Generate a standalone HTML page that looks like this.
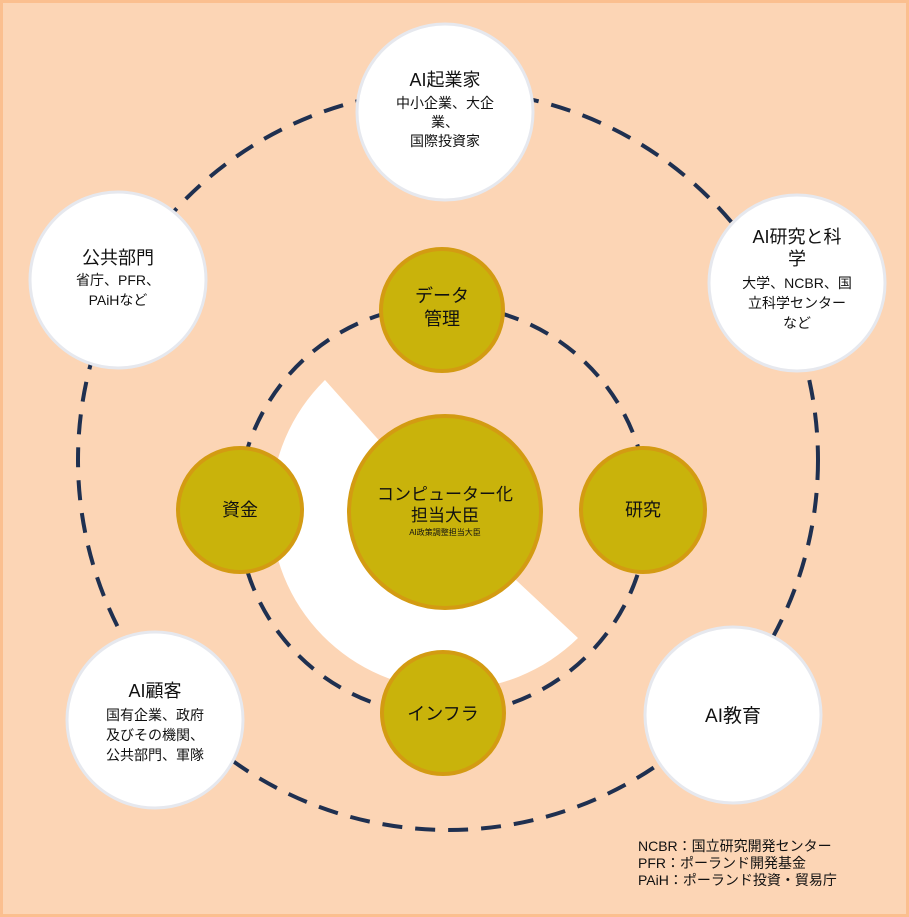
<!DOCTYPE html>
<html><head><meta charset="utf-8"><style>
body{margin:0;width:909px;height:917px;overflow:hidden;background:#FCD5B5}
svg{display:block}
text{font-family:"Liberation Sans","Noto Sans CJK JP",sans-serif;fill:#111;text-anchor:middle}
</style></head><body>
<svg width="909" height="917" viewBox="0 0 909 917">
<rect x="1.5" y="1.5" width="906" height="914" fill="#FCD5B5" stroke="#FBBF8F" stroke-width="3"/>
<circle cx="448" cy="460" r="370" fill="none" stroke="#1F3050" stroke-width="4" stroke-dasharray="20 13"/>
<circle cx="443" cy="510" r="205" fill="none" stroke="#1F3050" stroke-width="4" stroke-dasharray="20 13"/>
<path d="M443,512 L325,380 A177,177 0 1,0 578,638 Z" fill="#fff"/>
<g fill="#fff" stroke="#E6E8EE" stroke-width="3">
<circle cx="445" cy="112" r="88"/>
<circle cx="118" cy="280" r="88"/>
<circle cx="797" cy="283" r="88"/>
<circle cx="155" cy="720" r="88"/>
<circle cx="733" cy="715" r="88"/>
</g>
<g fill="#C9B30B" stroke="#D39B12" stroke-width="4">
<circle cx="445" cy="512" r="96"/>
<circle cx="442" cy="310" r="61"/>
<circle cx="240" cy="510" r="62"/>
<circle cx="643" cy="510" r="62"/>
<circle cx="443" cy="713" r="61"/>
</g>
<text x="445" y="86" font-size="18">AI起業家</text>
<text x="445" y="108" font-size="14">中小企業、大企</text>
<text x="445" y="127" font-size="14">業、</text>
<text x="445" y="146" font-size="14">国際投資家</text>
<text x="118" y="264" font-size="18">公共部門</text>
<text x="118" y="285" font-size="14">省庁、PFR、</text>
<text x="118" y="305" font-size="14">PAiHなど</text>
<text x="797" y="243" font-size="18">AI研究と科</text>
<text x="797" y="265" font-size="18">学</text>
<text x="797" y="288" font-size="14">大学、NCBR、国</text>
<text x="797" y="308" font-size="14">立科学センター</text>
<text x="797" y="328" font-size="14">など</text>
<text x="155" y="697" font-size="18">AI顧客</text>
<text x="155" y="720" font-size="14">国有企業、政府</text>
<text x="155" y="740" font-size="14">及びその機関、</text>
<text x="155" y="760" font-size="14">公共部門、軍隊</text>
<text x="733" y="722" font-size="19">AI教育</text>
<text x="445" y="500" font-size="17">コンピューター化</text>
<text x="445" y="521" font-size="17">担当大臣</text>
<text x="445" y="535" font-size="8">AI政策調整担当大臣</text>
<text x="442" y="302" font-size="18">データ</text>
<text x="442" y="325" font-size="18">管理</text>
<text x="240" y="516" font-size="18">資金</text>
<text x="643" y="516" font-size="18">研究</text>
<text x="443" y="720" font-size="18">インフラ</text>
<g font-size="14">
<text x="638" y="851" style="text-anchor:start">NCBR：国立研究開発センター</text>
<text x="638" y="868" style="text-anchor:start">PFR：ポーランド開発基金</text>
<text x="638" y="885" style="text-anchor:start">PAiH：ポーランド投資・貿易庁</text>
</g>
</svg>
</body></html>
